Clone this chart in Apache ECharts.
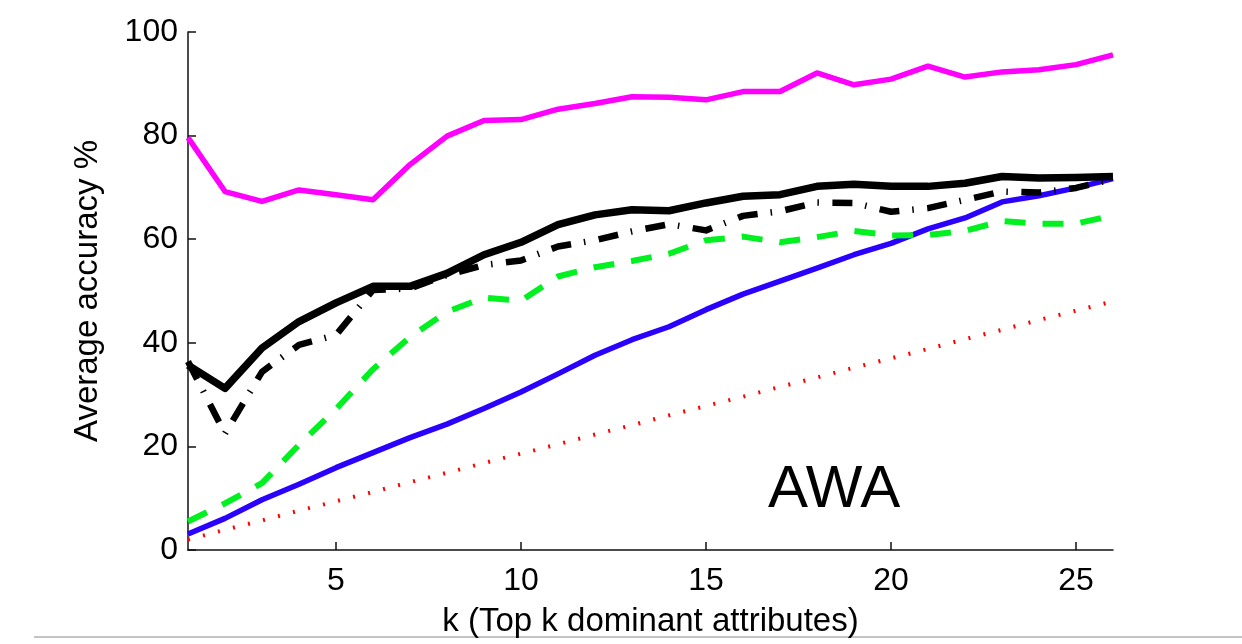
<!DOCTYPE html>
<html>
<head>
<meta charset="utf-8">
<script src="https://cdn.jsdelivr.net/npm/echarts@6/dist/echarts.min.js"></script>
<style>
  html, body { margin: 0; padding: 0; background: #fff; }
  #chart { width: 1242px; height: 644px; }
</style>
</head>
<body>
<div id="chart"></div>
<script>
// k = number of top dominant attributes
const kValues = [1,2,3,4,5,6,7,8,9,10,11,12,13,14,15,16,17,18,19,20,21,22,23,24,25,26];
const xTicks = [5, 10, 15, 20, 25];

// accuracy (%) per k
const magenta = [79.6,69.2,67.3,69.5,68.6,67.6,74.4,79.9,82.9,83.1,85.1,86.2,87.5,87.4,86.9,88.5,88.5,92.1,89.8,90.9,93.4,91.3,92.3,92.7,93.7,95.6];
const blackSolid = [35.7,31.2,39.0,44.1,47.7,50.9,50.9,53.4,57.0,59.4,62.8,64.7,65.7,65.5,67.0,68.3,68.6,70.2,70.6,70.2,70.2,70.8,72.1,71.8,71.9,72.1];
const blackDashDot = [36.4,22.5,34.4,39.6,41.5,50.2,50.5,53.1,55.0,55.9,58.6,59.8,61.5,62.9,61.7,64.5,65.4,67.1,67.0,65.3,66.0,67.6,69.2,69.0,69.9,71.6];
const greenDashed = [5.5,9.0,12.9,20.3,27.2,34.9,41.1,46.0,48.7,48.1,52.8,54.6,55.8,57.2,59.8,60.5,59.4,60.4,61.6,60.7,60.8,61.6,63.5,63.0,63.0,64.6];
const blueSolid = [3.1,6.1,9.7,12.7,15.9,18.8,21.7,24.3,27.3,30.5,34.0,37.6,40.6,43.1,46.4,49.4,51.9,54.4,57.0,59.2,62.0,64.1,67.2,68.4,69.9,71.7];
const redDotted = [2.0,3.9,5.7,7.6,9.4,11.2,13.1,14.9,16.8,18.6,20.4,22.3,24.1,26.0,27.8,29.6,31.5,33.3,35.2,37.0,38.8,40.7,42.5,44.4,46.2,48.0];

const font = "'Liberation Sans', Arial, Helvetica, sans-serif";

function pairs(vals) {
  return kValues.map((k, i) => [k, vals[i]]);
}

function line(name, vals, color, width, type) {
  return {
    name,
    type: 'line',
    data: pairs(vals),
    symbol: 'none',
    silent: true,
    lineStyle: { color, width, type: type || 'solid', cap: 'butt', join: 'round' }
  };
}

const chart = echarts.init(document.getElementById('chart'));
chart.setOption({
  animation: false,
  backgroundColor: '#fff',
  grid: { left: 188, top: 32, width: 925, bottom: 94, containLabel: false },
  xAxis: {
    type: 'value',
    min: 1,
    max: 26,
    name: 'k (Top k dominant attributes)',
    nameLocation: 'middle',
    nameGap: 55,
    nameTextStyle: { fontFamily: font, fontSize: 33, color: '#000' },
    axisLine: { lineStyle: { color: '#111', width: 1.5 } },
    axisTick: { inside: true, length: 8, customValues: xTicks, lineStyle: { color: '#111', width: 1.5 } },
    axisLabel: { customValues: xTicks, fontFamily: font, fontSize: 32, color: '#000', margin: 15 },
    splitLine: { show: false }
  },
  yAxis: {
    type: 'value',
    min: 0,
    max: 100,
    interval: 20,
    name: 'Average accuracy %',
    nameLocation: 'middle',
    nameRotate: 90,
    nameGap: 84,
    nameTextStyle: { fontFamily: font, fontSize: 33, color: '#000' },
    axisLine: { show: true, lineStyle: { color: '#111', width: 1.5 } },
    axisTick: { show: true, inside: true, length: 8, lineStyle: { color: '#111', width: 1.5 } },
    axisLabel: { fontFamily: font, fontSize: 32, color: '#000', margin: 10 },
    splitLine: { show: false }
  },
  series: [
    line('chance', redDotted, '#ff0000', 4, [2, 13.5]),
    line('blue', blueSolid, '#2a00ff', 5.5),
    line('green', greenDashed, '#00f020', 6, [21, 17]),
    line('dashdot', blackDashDot, '#000', 6.5, [20, 13, 1.5, 13.5]),
    line('black', blackSolid, '#000', 7.5),
    line('magenta', magenta, '#ff00ff', 5.5)
  ],
  graphic: [
    {
      type: 'text',
      left: 768,
      top: 460,
      style: { text: 'AWA', font: '60px ' + font, fill: '#000' }
    },
    {
      type: 'line',
      shape: { x1: 34, y1: 637, x2: 1242, y2: 637 },
      style: { stroke: '#c4c4c4', lineWidth: 2 }
    }
  ]
});
</script>
</body>
</html>
